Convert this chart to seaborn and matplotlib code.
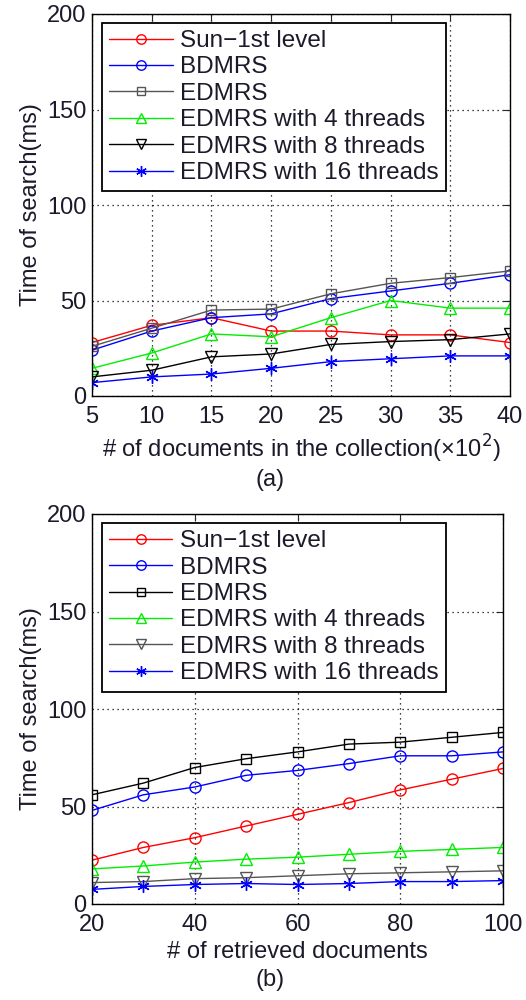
import matplotlib
matplotlib.use("Agg")
import matplotlib.pyplot as plt
import seaborn as sns
import pandas as pd

sns.set_style("white")
plt.rcParams['font.family'] = ['Liberation Sans', 'DejaVu Sans']

series_names = ["Sun\u22121st level", "BDMRS", "EDMRS", "EDMRS with 4 threads",
                "EDMRS with 8 threads", "EDMRS with 16 threads"]

# Panel (a)
x_a = [5, 10, 15, 20, 25, 30, 35, 40]
sun_a = [28, 37, 41, 34, 34, 32, 32, 28]
bdmrs_a = [24, 34, 41, 43, 51, 55, 59, 63.5]
edmrs_a = [26, 35.5, 45, 45.5, 53.5, 59, 62, 65.5]
t4_a = [14.5, 22.5, 32.5, 31, 41, 50, 46, 46]
t8_a = [10, 13.5, 20.5, 22, 27, 28.5, 29.5, 32.5]
t16_a = [7, 10, 11.5, 14.5, 18, 19.5, 21, 21]

# Panel (b)
x_b = [20, 30, 40, 50, 60, 70, 80, 90, 100]
sun_b = [22.5, 29, 34, 40, 46, 52, 58.5, 64, 69.5]
bdmrs_b = [48, 56, 60, 66, 68.5, 72, 76, 76, 78]
edmrs_b = [56, 62, 70, 74.5, 78, 82, 83, 85.5, 88]
t4_b = [18, 19.5, 21.5, 23, 24, 25.5, 27, 28, 29]
t8_b = [11, 11.5, 13, 13.5, 14.5, 15.5, 16, 16.5, 17]
t16_b = [7.5, 9, 10, 10.5, 10, 10.5, 11.5, 11.5, 12]

markers = ['o', 'o', 's', '^', 'v', (6, 2, 0)]
msizes = [8, 8, 7, 9, 9, 9]
colors_a = ['#ff0000', '#0000ff', '#555555', '#00ee00', '#000000', '#0000ff']
colors_b = ['#ff0000', '#0000ff', '#000000', '#00ee00', '#555555', '#0000ff']

FS = 17
TXT = '#1a1a2a'

fig = plt.figure(figsize=(5.26, 10), dpi=100)
ax_a = fig.add_axes([0.1749, 0.604, 0.7947, 0.382])
ax_b = fig.add_axes([0.1749, 0.096, 0.7814, 0.390])


def draw(ax, x, ys, colors, xticks, xlabel):
    for name, y, m, ms, c in zip(series_names, ys, markers, msizes, colors):
        df = pd.DataFrame({"x": x, "y": y})
        sns.lineplot(data=df, x="x", y="y", ax=ax, color=c, marker=m,
                     markersize=ms, markerfacecolor='none', markeredgecolor=c,
                     markeredgewidth=1.0, linewidth=1.0, label=name)
    ax.set_xlim(x[0], x[-1])
    ax.set_ylim(0, 200)
    ax.set_xticks(xticks)
    ax.set_yticks([0, 50, 100, 150, 200])
    ax.grid(True, color='black', linestyle=(0, (1, 3)), linewidth=0.9)
    ax.tick_params(direction='in', top=True, right=True, length=5,
                   labelsize=FS, width=0.8, pad=4, labelcolor=TXT)
    ax.tick_params(axis='x', pad=7)
    for s in ax.spines.values():
        s.set_color('black')
        s.set_linewidth(1.0)
    ax.set_xlabel(xlabel, fontsize=FS, labelpad=4, color=TXT)
    ax.set_ylabel("Time of search(ms)", fontsize=FS, labelpad=4, color=TXT)
    leg = ax.legend(loc='upper left', bbox_to_anchor=(0.024, 0.977), fontsize=17.5,
                    frameon=True, fancybox=False, framealpha=1, edgecolor='black',
                    handlelength=2.6, handletextpad=0.3, borderpad=0.3,
                    labelspacing=0.18, borderaxespad=0.0, markerscale=0.85)
    leg.get_frame().set_linewidth(1.3)
    for t in leg.get_texts():
        t.set_color(TXT)


draw(ax_a, x_a, [sun_a, bdmrs_a, edmrs_a, t4_a, t8_a, t16_a], colors_a,
     x_a, "# of documents in the collection(\u00d710$^2$)")
draw(ax_b, x_b, [sun_b, bdmrs_b, edmrs_b, t4_b, t8_b, t16_b], colors_b,
     [20, 40, 60, 80, 100], "# of retrieved documents")

fig.text(0.513, 0.520, "(a)", fontsize=FS, ha='center', va='center', color=TXT)
fig.text(0.513, 0.020, "(b)", fontsize=FS, ha='center', va='center', color=TXT)

fig.savefig("out.png", dpi=100)
